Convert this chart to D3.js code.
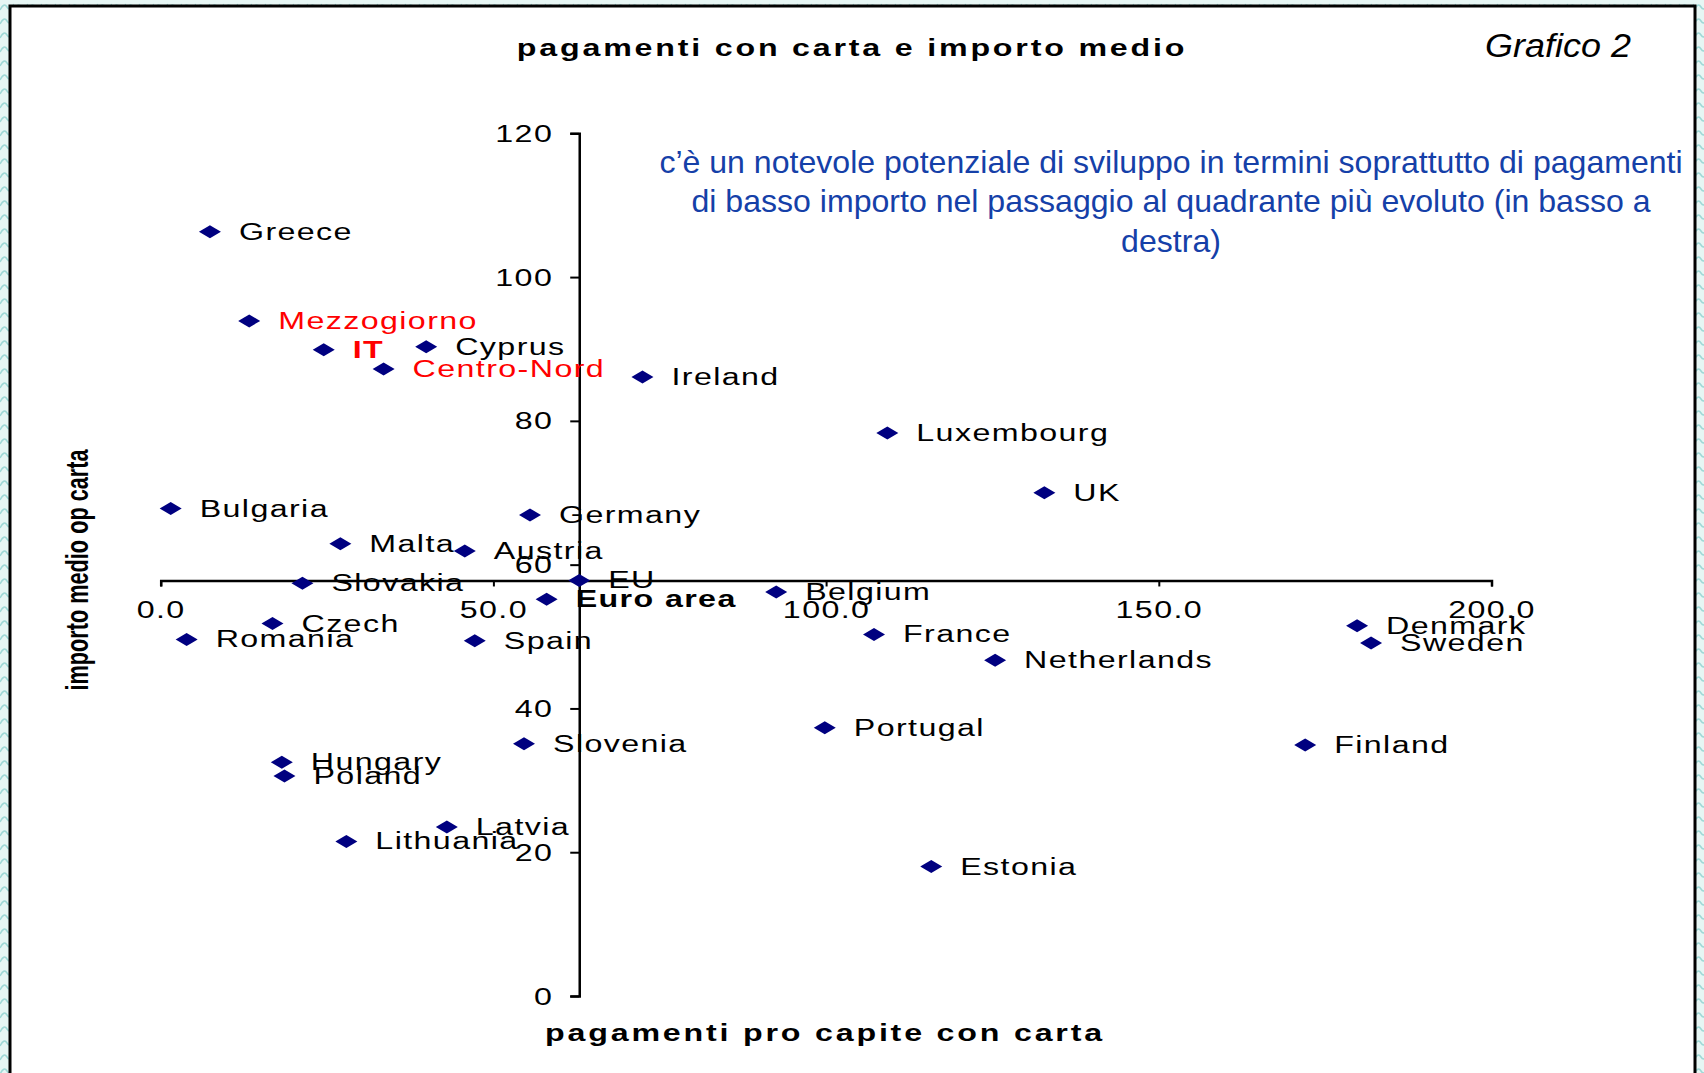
<!DOCTYPE html>
<html>
<head>
<meta charset="utf-8">
<script src="https://cdn.jsdelivr.net/npm/d3@7"></script>
<style>
  body { margin: 0; background: #fff; }
  svg { display: block; }
  text { font-family: "Liberation Sans", Arial, sans-serif; }
</style>
</head>
<body>
<div id="chart"></div>
<script>
// Values
const countries = ["Greece", "Mezzogiorno", "IT", "Cyprus", "Centro-Nord", "Ireland", "Luxembourg", "UK",
    "Bulgaria", "Germany", "Malta", "Austria", "Slovakia", "EU", "Euro area", "Belgium", "Czech", "Romania",
    "Spain", "France", "Netherlands", "Denmark", "Sweden", "Portugal", "Slovenia", "Finland", "Hungary",
    "Poland", "Latvia", "Lithuania", "Estonia"];
const paymentsPerCapita = [7.4, 13.3, 24.5, 39.9, 33.5, 72.4, 109.2, 132.8,
    1.5, 55.5, 27.0, 45.7, 21.3, 62.9, 58.0, 92.5, 16.8, 3.9,
    47.2, 107.2, 125.4, 179.8, 181.9, 99.8, 54.6, 172.0, 18.2,
    18.6, 43.0, 27.9, 115.8];
const avgAmount = [106.3, 93.9, 89.9, 90.3, 87.2, 86.1, 78.3, 70.0,
    67.8, 66.9, 62.9, 61.9, 57.4, 57.8, 55.2, 56.2, 51.8, 49.6,
    49.4, 50.3, 46.7, 51.5, 49.1, 37.3, 35.1, 34.9, 32.5,
    30.6, 23.5, 21.5, 18.0];
const italyLabels = ["Mezzogiorno", "IT", "Centro-Nord"];
const boldLabels = ["IT", "Euro area"];
const xTicks = [0, 50, 100, 150, 200];
const yTicks = [0, 20, 40, 60, 80, 100, 120];
const noteLines = [
    "c\u2019\u00e8 un notevole potenziale di sviluppo in termini soprattutto di pagamenti",
    "di basso importo nel passaggio al quadrante pi\u00f9 evoluto (in basso a",
    "destra)"
];

const W = 1704, H = 1073;
const stretch = 1.4;   // chart text in the original is widened

const svg = d3.select("#chart").append("svg")
    .attr("width", W)
    .attr("height", H);

// slide background showing round the frame
const defs = svg.append("defs");
const pat = defs.append("pattern")
    .attr("id", "waves")
    .attr("width", 14).attr("height", 14)
    .attr("patternUnits", "userSpaceOnUse");
pat.append("rect").attr("width", 14).attr("height", 14).attr("fill", "#e6f6f4");
pat.append("path").attr("d", "M0,10 Q4,2 7,7 T14,4").attr("stroke", "#9ed8d6").attr("fill", "none").attr("stroke-width", 1.5);
svg.append("rect").attr("width", W).attr("height", H).attr("fill", "url(#waves)");

svg.append("rect")
    .attr("x", 10).attr("y", 6)
    .attr("width", 1685).attr("height", H + 20)
    .attr("fill", "#fff")
    .attr("stroke", "#000")
    .attr("stroke-width", 3);

// Scales
const xScale = d3.scaleLinear().domain([0, 200]).range([160.7, 1491.5]);
const yScale = d3.scaleLinear().domain([0, 120]).range([996, 133.3]);

// axes cross at the EU point
const euIdx = countries.indexOf("EU");
const crossX = xScale(paymentsPerCapita[euIdx]);
const crossY = yScale(avgAmount[euIdx]);

const styleLabel = (sel, size) => sel
    .style("font-size", size + "px")
    .style("letter-spacing", "1px")
    .attr("fill", "#000");

// Y axis
const gy = svg.append("g")
    .attr("transform", `translate(${crossX},0)`)
    .call(d3.axisLeft(yScale).tickValues(yTicks).tickFormat(d3.format("d")).tickSize(9).tickSizeOuter(9));
gy.selectAll(".tick text")
    .attr("x", null).attr("dy", null).attr("y", 8)
    .attr("transform", `translate(-26,0) scale(${stretch},1)`)
    .call(styleLabel, 23);

// X axis
const gx = svg.append("g")
    .attr("transform", `translate(0,${crossY})`)
    .call(d3.axisBottom(xScale).tickValues(xTicks).tickFormat(d3.format(".1f")).tickSize(6).tickSizeOuter(6));
gx.selectAll(".tick text")
    .attr("dy", null).attr("y", 38)
    .attr("transform", `scale(${stretch},1)`)
    .call(styleLabel, 23);

svg.selectAll(".domain").attr("stroke", "#000").attr("stroke-width", 2.5);
svg.selectAll(".tick line").attr("stroke", "#000").attr("stroke-width", 2);

// Points (flat navy diamonds)
const pts = countries.map((c, i) => ({ name: c, x: paymentsPerCapita[i], y: avgAmount[i] }));

svg.append("g").selectAll("path")
    .data(pts)
    .join("path")
    .attr("d", "M-11,0L0,-6.5L11,0L0,6.5Z")
    .attr("transform", d => `translate(${xScale(d.x)},${yScale(d.y)})`)
    .attr("fill", "#000080");

// Point labels
svg.append("g").selectAll("text")
    .data(pts)
    .join("text")
    .attr("transform", d => `translate(${xScale(d.x) + 29},${yScale(d.y) + 8}) scale(${stretch},1)`)
    .text(d => d.name)
    .call(styleLabel, 23)
    .attr("fill", d => italyLabels.includes(d.name) ? "#ff0000" : "#000")
    .style("font-weight", d => boldLabels.includes(d.name) ? "bold" : "normal");

// Titles
svg.append("text")
    .attr("transform", `translate(852,56) scale(${stretch},1)`)
    .attr("text-anchor", "middle")
    .style("font-size", "23px").style("font-weight", "bold").style("letter-spacing", "2px")
    .text("pagamenti con carta e importo medio");

svg.append("text")
    .attr("transform", "translate(1631,57) scale(1.09,1)")
    .attr("text-anchor", "end")
    .style("font-size", "33px").style("font-style", "italic")
    .text("Grafico 2");

svg.append("text")
    .attr("transform", `translate(825,1041) scale(${stretch},1)`)
    .attr("text-anchor", "middle")
    .style("font-size", "23px").style("font-weight", "bold").style("letter-spacing", "2px")
    .text("pagamenti pro capite con carta");

svg.append("text")
    .attr("transform", "translate(88,570) rotate(-90) scale(0.7,1)")
    .attr("text-anchor", "middle")
    .style("font-size", "31px").style("font-weight", "bold")
    .text("importo medio op carta");

// Annotation
svg.append("g").selectAll("text")
    .data(noteLines)
    .join("text")
    .attr("transform", (d, i) => `translate(1171,${173 + i * 39.4}) scale(1.035,1)`)
    .attr("text-anchor", "middle")
    .attr("fill", "#1540a8")
    .style("font-size", "31px")
    .text(d => d);
</script>
</body>
</html>
